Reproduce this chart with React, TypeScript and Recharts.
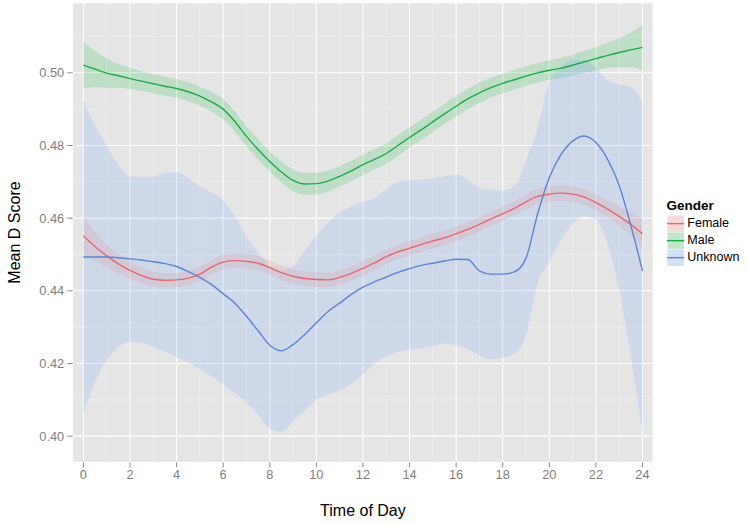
import React from 'react';
import { ComposedChart, Area, Line, XAxis, YAxis, CartesianGrid, Legend } from 'recharts';

const hours = [0, 0.5, 1, 1.5, 2, 2.5, 3, 3.5, 4, 4.5, 5, 5.5, 6, 6.5, 7, 7.5, 8, 8.5, 9, 9.5, 10, 10.5, 11, 11.5, 12, 12.5, 13, 13.5, 14, 14.5, 15, 15.5, 16, 16.5, 17, 17.5, 18, 18.5, 19, 19.5, 20, 20.5, 21, 21.5, 22, 22.5, 23, 23.5, 24];

const maleMean = [0.5021, 0.5010, 0.4999, 0.4992, 0.4984, 0.4977, 0.4970, 0.4963, 0.4957, 0.4948, 0.4936, 0.4920, 0.4900, 0.4866, 0.4825, 0.4789, 0.4756, 0.4727, 0.4704, 0.4694, 0.4695, 0.4702, 0.4715, 0.4730, 0.4747, 0.4762, 0.4778, 0.4800, 0.4822, 0.4843, 0.4865, 0.4887, 0.4908, 0.4928, 0.4945, 0.4959, 0.4971, 0.4981, 0.4991, 0.5000, 0.5007, 0.5013, 0.5021, 0.5030, 0.5039, 0.5048, 0.5056, 0.5063, 0.5070];
const maleHi = [0.5085, 0.5060, 0.5039, 0.5025, 0.5013, 0.5004, 0.4996, 0.4989, 0.4983, 0.4974, 0.4962, 0.4947, 0.4928, 0.4894, 0.4853, 0.4817, 0.4784, 0.4756, 0.4734, 0.4724, 0.4725, 0.4731, 0.4743, 0.4758, 0.4775, 0.4790, 0.4806, 0.4828, 0.4850, 0.4871, 0.4893, 0.4915, 0.4936, 0.4956, 0.4973, 0.4986, 0.4998, 0.5008, 0.5018, 0.5027, 0.5034, 0.5041, 0.5050, 0.5060, 0.5071, 0.5083, 0.5096, 0.5111, 0.5133];
const maleLo = [0.4957, 0.4960, 0.4959, 0.4959, 0.4955, 0.4950, 0.4944, 0.4937, 0.4931, 0.4922, 0.4910, 0.4893, 0.4872, 0.4838, 0.4797, 0.4761, 0.4728, 0.4698, 0.4674, 0.4664, 0.4665, 0.4673, 0.4687, 0.4702, 0.4719, 0.4734, 0.4750, 0.4772, 0.4794, 0.4815, 0.4837, 0.4859, 0.4880, 0.4900, 0.4917, 0.4932, 0.4944, 0.4954, 0.4964, 0.4973, 0.4980, 0.4985, 0.4992, 0.5000, 0.5007, 0.5013, 0.5016, 0.5015, 0.5007];

const femaleMean = [0.4551, 0.4522, 0.4496, 0.4474, 0.4456, 0.4442, 0.4432, 0.4429, 0.4430, 0.4435, 0.4446, 0.4465, 0.4479, 0.4483, 0.4481, 0.4476, 0.4464, 0.4450, 0.4440, 0.4434, 0.4431, 0.4430, 0.4437, 0.4448, 0.4462, 0.4477, 0.4494, 0.4507, 0.4517, 0.4528, 0.4537, 0.4546, 0.4557, 0.4569, 0.4583, 0.4598, 0.4612, 0.4627, 0.4645, 0.4660, 0.4666, 0.4669, 0.4666, 0.4658, 0.4643, 0.4625, 0.4605, 0.4583, 0.4557];
const femaleHi = [0.4601, 0.4562, 0.4528, 0.4501, 0.4480, 0.4464, 0.4453, 0.4449, 0.4450, 0.4455, 0.4466, 0.4485, 0.4499, 0.4503, 0.4501, 0.4496, 0.4484, 0.4470, 0.4460, 0.4454, 0.4451, 0.4450, 0.4457, 0.4468, 0.4482, 0.4497, 0.4514, 0.4527, 0.4537, 0.4548, 0.4557, 0.4566, 0.4577, 0.4589, 0.4603, 0.4618, 0.4632, 0.4647, 0.4666, 0.4681, 0.4687, 0.4690, 0.4687, 0.4680, 0.4665, 0.4649, 0.4632, 0.4615, 0.4599];
const femaleLo = [0.4501, 0.4482, 0.4464, 0.4447, 0.4432, 0.4420, 0.4411, 0.4409, 0.4410, 0.4415, 0.4426, 0.4445, 0.4459, 0.4463, 0.4461, 0.4456, 0.4444, 0.4430, 0.4420, 0.4414, 0.4411, 0.4410, 0.4417, 0.4428, 0.4442, 0.4457, 0.4474, 0.4487, 0.4497, 0.4508, 0.4517, 0.4526, 0.4537, 0.4549, 0.4563, 0.4578, 0.4592, 0.4607, 0.4624, 0.4639, 0.4645, 0.4648, 0.4645, 0.4636, 0.4621, 0.4601, 0.4578, 0.4551, 0.4515];

const unknownMean = [0.4493, 0.4493, 0.4493, 0.4491, 0.4488, 0.4485, 0.4480, 0.4475, 0.4467, 0.4453, 0.4437, 0.4417, 0.4392, 0.4366, 0.4330, 0.4290, 0.4250, 0.4235, 0.4252, 0.4280, 0.4312, 0.4343, 0.4366, 0.4390, 0.4410, 0.4425, 0.4438, 0.4451, 0.4461, 0.4470, 0.4476, 0.4482, 0.4487, 0.4486, 0.4455, 0.4446, 0.4446, 0.4452, 0.4490, 0.4612, 0.4712, 0.4775, 0.4812, 0.4826, 0.4808, 0.4762, 0.4690, 0.4580, 0.4455];
const unknownHi = [0.4925, 0.4855, 0.4800, 0.4745, 0.4715, 0.4712, 0.4714, 0.4725, 0.4727, 0.4710, 0.4688, 0.4670, 0.4650, 0.4605, 0.4550, 0.4505, 0.4470, 0.4457, 0.4468, 0.4510, 0.4552, 0.4588, 0.4615, 0.4632, 0.4645, 0.4655, 0.4680, 0.4700, 0.4705, 0.4706, 0.4708, 0.4715, 0.4720, 0.4705, 0.4684, 0.4678, 0.4676, 0.4688, 0.4760, 0.4850, 0.4975, 0.5015, 0.5037, 0.5035, 0.5012, 0.4980, 0.4968, 0.4962, 0.4920];
const unknownLo = [0.4063, 0.4150, 0.4210, 0.4245, 0.4260, 0.4258, 0.4245, 0.4232, 0.4218, 0.4202, 0.4185, 0.4165, 0.4143, 0.4118, 0.4092, 0.4060, 0.4020, 0.4012, 0.4040, 0.4072, 0.4098, 0.4115, 0.4125, 0.4145, 0.4170, 0.4200, 0.4220, 0.4232, 0.4237, 0.4241, 0.4248, 0.4254, 0.4250, 0.4240, 0.4222, 0.4212, 0.4216, 0.4228, 0.4277, 0.4420, 0.4480, 0.4540, 0.4585, 0.4605, 0.4595, 0.4530, 0.4400, 0.4220, 0.4005];

const xTicks = [0, 2, 4, 6, 8, 10, 12, 14, 16, 18, 20, 22, 24];
const xMinor = [1, 3, 5, 7, 9, 11, 13, 15, 17, 19, 21, 23];
const yTicks = [0.40, 0.42, 0.44, 0.46, 0.48, 0.50];
const yMinor = [0.41, 0.43, 0.45, 0.47, 0.49, 0.51];

const legendTitle = 'Gender';
const seriesInfo = [
  { name: 'Female', line: '#E8676A', fill: '#F8766D' },
  { name: 'Male', line: '#1DAA45', fill: '#00BA38' },
  { name: 'Unknown', line: '#5A86D6', fill: '#619CFF' },
];

const data = hours.map((t, i) => ({
  t,
  female: femaleMean[i],
  femaleBand: [femaleLo[i], femaleHi[i]],
  male: maleMean[i],
  maleBand: [maleLo[i], maleHi[i]],
  unknown: unknownMean[i],
  unknownBand: [unknownLo[i], unknownHi[i]],
}));

const FONT = '"Liberation Sans", Arial, Helvetica, sans-serif';
const BAND_OPACITY = 0.17;

const XTitle = (props: any) => {
  const vb = props.viewBox || {};
  const cx = vb.x + vb.width / 2;
  const cy = vb.y + 48;
  return (
    <text x={cx} y={cy} textAnchor="middle" dominantBaseline="central" fontSize={16} fontFamily={FONT} fill="#000">
      Time of Day
    </text>
  );
};

const YTitle = (props: any) => {
  const vb = props.viewBox || {};
  const cx = vb.x + 14;
  const cy = vb.y + vb.height / 2;
  return (
    <text x={cx} y={cy} transform={`rotate(-90, ${cx}, ${cy})`} textAnchor="middle" dominantBaseline="central" fontSize={16} fontFamily={FONT} fill="#000">
      Mean D Score
    </text>
  );
};

const renderLegend = () => (
  <div style={{ fontFamily: FONT, color: '#000', textAlign: 'left' }}>
    <div style={{ fontWeight: 'bold', fontSize: 13.5, height: 19, lineHeight: '19px' }}>{legendTitle}</div>
    {seriesInfo.map((s) => (
      <div key={s.name} style={{ display: 'flex', alignItems: 'center', height: 17.3 }}>
        <svg width={17.3} height={17.3} style={{ display: 'block' }}>
          <rect x={0} y={0} width={17.3} height={17.3} fill="#F2F2F2" stroke="#FFFFFF" strokeWidth={0.8} />
          <rect x={0.4} y={0.4} width={16.5} height={16.5} fill={s.fill} fillOpacity={0.2} />
          <line x1={0} x2={17.3} y1={8.65} y2={8.65} stroke={s.line} strokeWidth={1.4} />
        </svg>
        <span style={{ marginLeft: 3.5, fontSize: 12.5, lineHeight: '17px' }}>{s.name}</span>
      </div>
    ))}
  </div>
);

export default function App() {
  return (
    <div style={{ position: 'absolute', left: 0, top: 0, width: 747, height: 525, background: '#fff' }}>
      <ComposedChart width={747} height={525} data={data} margin={{ top: 2.7, right: 93.8, bottom: 0, left: 0 }}>
        <CartesianGrid fill="#E5E5E5" stroke="#F2F2F2" strokeWidth={0.6} verticalValues={xMinor} horizontalValues={yMinor} />
        <CartesianGrid stroke="#FFFFFF" strokeWidth={1.1} />
        <XAxis
          type="number"
          dataKey="t"
          domain={[-0.46, 24.46]}
          ticks={xTicks}
          allowDataOverflow
          height={62.7}
          axisLine={false}
          tickLine={{ stroke: '#8C8C8C' }}
          tickSize={5}
          tickMargin={3}
          tick={{ fill: '#7F7F7F', fontSize: 12.8, fontFamily: FONT }}
          label={<XTitle />}
        />
        <YAxis
          type="number"
          domain={[0.3928, 0.5193]}
          ticks={yTicks}
          allowDataOverflow
          width={72.7}
          axisLine={false}
          tickLine={{ stroke: '#8C8C8C' }}
          tickSize={5.5}
          tickMargin={3}
          tickFormatter={(v: number) => v.toFixed(2)}
          tick={{ fill: '#7F7F7F', fontSize: 12.8, fontFamily: FONT }}
          label={<YTitle />}
        />
        <Area type="monotone" dataKey="femaleBand" stroke="none" fill={seriesInfo[0].fill} fillOpacity={BAND_OPACITY} isAnimationActive={false} legendType="none" />
        <Line type="monotone" dataKey="female" stroke={seriesInfo[0].line} strokeWidth={1.4} dot={false} activeDot={false} isAnimationActive={false} />
        <Area type="monotone" dataKey="maleBand" stroke="none" fill={seriesInfo[1].fill} fillOpacity={BAND_OPACITY} isAnimationActive={false} legendType="none" />
        <Line type="monotone" dataKey="male" stroke={seriesInfo[1].line} strokeWidth={1.4} dot={false} activeDot={false} isAnimationActive={false} />
        <Area type="monotone" dataKey="unknownBand" stroke="none" fill={seriesInfo[2].fill} fillOpacity={BAND_OPACITY} isAnimationActive={false} legendType="none" />
        <Line type="monotone" dataKey="unknown" stroke={seriesInfo[2].line} strokeWidth={1.4} dot={false} activeDot={false} isAnimationActive={false} />
        <Legend
          layout="horizontal"
          align="center"
          verticalAlign="middle"
          content={renderLegend}
          wrapperStyle={{ left: 666.5, top: 195.5, width: 80, height: 72 }}
        />
      </ComposedChart>
    </div>
  );
}
